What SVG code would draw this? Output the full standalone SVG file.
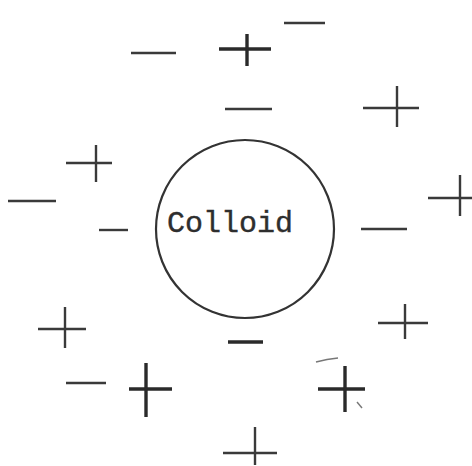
<svg xmlns="http://www.w3.org/2000/svg" width="472" height="466" viewBox="0 0 472 466">
<style>
.bg{fill:#ffffff}
.ion line{stroke:#3a3a3a;stroke-width:2.4;stroke-linecap:butt}
.ion.bold line{stroke:#2a2a2a;stroke-width:3.4}
.ring{fill:none;stroke:#333333;stroke-width:2.2}
.label{font-family:"Liberation Mono","Courier New",monospace;font-size:30px;fill:#2e2e2e;stroke:#2e2e2e;stroke-width:0.4}
.speck{stroke:#777;stroke-width:1.4;fill:none}
</style>
<rect class="bg" x="0" y="0" width="472" height="466"/>
<g id="connectors"></g>
<g id="colloid">
<circle class="ring" cx="245" cy="229" r="89"/>
<text class="label" x="167" y="232">Colloid</text>
</g>
<g id="minus-1" class="ion"><line x1="284" y1="23" x2="325" y2="23"/></g>
<g id="minus-2" class="ion"><line x1="131" y1="53" x2="176" y2="53"/></g>
<g id="plus-1" class="ion bold"><line x1="219" y1="49" x2="271" y2="49"/><line x1="247" y1="34" x2="247" y2="66"/></g>
<g id="minus-3" class="ion"><line x1="225" y1="109" x2="272" y2="109"/></g>
<g id="plus-2" class="ion"><line x1="363" y1="108" x2="419" y2="108"/><line x1="397" y1="86" x2="397" y2="127"/></g>
<g id="plus-3" class="ion"><line x1="66" y1="163" x2="112" y2="163"/><line x1="96" y1="145" x2="96" y2="182"/></g>
<g id="minus-4" class="ion"><line x1="8" y1="201" x2="56" y2="201"/></g>
<g id="minus-5" class="ion"><line x1="99" y1="230" x2="128" y2="230"/></g>
<g id="minus-6" class="ion"><line x1="361" y1="229" x2="407" y2="229"/></g>
<g id="plus-4" class="ion"><line x1="428" y1="198" x2="472" y2="198"/><line x1="460" y1="175" x2="460" y2="216"/></g>
<g id="plus-5" class="ion"><line x1="38" y1="329" x2="86" y2="329"/><line x1="65" y1="307" x2="65" y2="348"/></g>
<g id="plus-6" class="ion"><line x1="378" y1="323" x2="428" y2="323"/><line x1="405" y1="304" x2="405" y2="339"/></g>
<g id="minus-7" class="ion bold"><line x1="228" y1="342" x2="263" y2="342"/></g>
<g id="minus-8" class="ion"><line x1="66" y1="383" x2="106" y2="383"/></g>
<g id="plus-7" class="ion bold"><line x1="129" y1="389" x2="172" y2="389"/><line x1="146" y1="363" x2="146" y2="417"/></g>
<g id="plus-8" class="ion bold"><line x1="318" y1="389" x2="365" y2="389"/><line x1="345" y1="366" x2="345" y2="412"/></g>
<g id="plus-9" class="ion"><line x1="223" y1="453" x2="277" y2="453"/><line x1="255" y1="427" x2="255" y2="465"/></g>
<line class="speck" x1="357" y1="402" x2="362" y2="408"/>
<path class="speck" d="M316 362 Q327 359 338 358" stroke="#bbb" stroke-width="0.8"/>
</svg>
